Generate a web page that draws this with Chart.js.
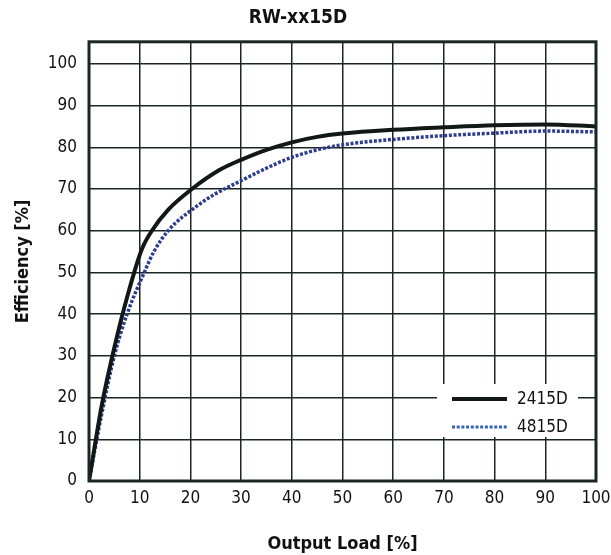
<!DOCTYPE html>
<html>
<head>
<meta charset="utf-8">
<script src="https://cdn.jsdelivr.net/npm/chart.js@4.4.1/dist/chart.umd.min.js"></script>
<style>
  html, body { margin: 0; padding: 0; background: #ffffff; }
  #wrap { width: 611px; height: 555px; }
</style>
</head>
<body>
<div id="wrap"><canvas id="c" width="611" height="555"></canvas></div>
<script>
// ---- data ----
const chartTitle = "RW-xx15D";
const xTitle = "Output Load [%]";
const yTitle = "Efficiency [%]";
const seriesNames = ["2415D", "4815D"];

const load2415 = [0, 2.5, 5, 7.5, 10.4, 12.4, 15.6, 20.3, 25.8, 30, 35, 40, 45, 50, 60, 70, 80, 90, 100];
const eff2415  = [0, 18, 32, 44, 55.5, 60, 65, 70, 74.6, 77, 79.4, 81.2, 82.5, 83.3, 84.2, 84.8, 85.3, 85.5, 85];

const load4815 = [0, 2.5, 5, 7.5, 10.9, 12.8, 15.6, 21.6, 25, 30, 35, 40, 45, 50, 60, 70, 80, 90, 100];
const eff4815  = [0, 16, 30, 40, 50, 55, 60, 66.2, 68.9, 72, 75, 77.6, 79.4, 80.6, 81.9, 82.8, 83.4, 83.9, 83.7];

const xTicks = [0, 10, 20, 30, 40, 50, 60, 70, 80, 90, 100];
const yTicks = [0, 10, 20, 30, 40, 50, 60, 70, 80, 90, 100];

const FONT = '"Liberation Sans Narrow", "DejaVu Sans Condensed", "Roboto", sans-serif';
const INK = '#1a2624';
const BLUE = '#2e3c8e';

function pts(xs, ys) { return xs.map((x, i) => ({ x: x, y: ys[i] })); }

const frameAndLegend = {
  id: 'frameAndLegend',
  afterDatasetsDraw(chart) {
    const ctx = chart.ctx;
    const a = chart.chartArea;
    ctx.save();
    // frame
    ctx.strokeStyle = INK;
    ctx.lineWidth = 3;
    ctx.strokeRect(a.left, a.top, a.right - a.left, a.bottom - a.top);
    // legend box
    const bx = a.right - 159, by = a.bottom - 97, bw = 141, bh = 53;
    ctx.fillStyle = '#ffffff';
    ctx.fillRect(bx, by, bw, bh);
    chart.data.datasets.forEach((ds, i) => {
      const y = by + 15 + i * 28;
      ctx.beginPath();
      ctx.strokeStyle = i === 0 ? ds.borderColor : '#3563b5';
      ctx.lineWidth = i === 0 ? 4 : 3;
      ctx.setLineDash(ds.borderDash || []);
      ctx.moveTo(bx + 15, y);
      ctx.lineTo(bx + 70, y);
      ctx.stroke();
      ctx.setLineDash([]);
      ctx.fillStyle = '#111';
      ctx.font = '17px ' + FONT;
      ctx.textAlign = 'left';
      ctx.textBaseline = 'middle';
      ctx.fillText(ds.label, bx + 80, y + 1);
    });
    ctx.restore();
  }
};

new Chart(document.getElementById('c'), {
  type: 'line',
  data: {
    datasets: [
      {
        label: seriesNames[0],
        data: pts(load2415, eff2415),
        borderColor: '#111816',
        borderWidth: 4,
        pointRadius: 0,
        cubicInterpolationMode: 'monotone',
        fill: false
      },
      {
        label: seriesNames[1],
        data: pts(load4815, eff4815),
        borderColor: BLUE,
        borderWidth: 3.5,
        borderDash: [3, 1.7],
        borderCapStyle: 'butt',
        pointRadius: 0,
        cubicInterpolationMode: 'monotone',
        fill: false
      }
    ]
  },
  options: {
    responsive: false,
    animation: false,
    devicePixelRatio: 1,
    layout: { padding: { left: 0, right: 15, top: 0, bottom: 0 } },
    plugins: {
      legend: { display: false },
      tooltip: { enabled: false },
      title: {
        display: true,
        text: chartTitle,
        color: '#111',
        font: { family: FONT, size: 19, weight: 'bold', lineHeight: 1.2 },
        padding: { top: 7, bottom: 12 }
      }
    },
    scales: {
      x: {
        type: 'linear',
        min: 0,
        max: 100,
        afterBuildTicks: (s) => { s.ticks = xTicks.map(v => ({ value: v })); },
        afterFit: (s) => { s.height = 74; s.paddingRight = 0; s.paddingLeft = 0; },
        grid: { color: INK, lineWidth: 1.5, drawTicks: false },
        border: { display: false },
        ticks: { color: '#111', font: { family: FONT, size: 17 }, padding: 7, maxRotation: 0 },
        title: {
          display: true,
          text: xTitle,
          color: '#111',
          font: { family: FONT, size: 18, weight: 'bold', lineHeight: 1.2 },
          padding: { top: 3, bottom: 0 }
        }
      },
      y: {
        type: 'linear',
        min: 0,
        max: 105.3,
        afterBuildTicks: (s) => { s.ticks = yTicks.map(v => ({ value: v })); },
        afterFit: (s) => { s.width = 89; s.paddingTop = 0; s.paddingBottom = 0; },
        grid: { color: INK, lineWidth: 1.5, drawTicks: false },
        border: { display: false },
        ticks: { color: '#111', font: { family: FONT, size: 17 }, padding: 12 },
        title: {
          display: true,
          text: yTitle,
          color: '#111',
          font: { family: FONT, size: 18, weight: 'bold', lineHeight: 1.2 },
          padding: { top: 13, bottom: 0 }
        }
      }
    }
  },
  plugins: [frameAndLegend]
});
</script>
</body>
</html>
